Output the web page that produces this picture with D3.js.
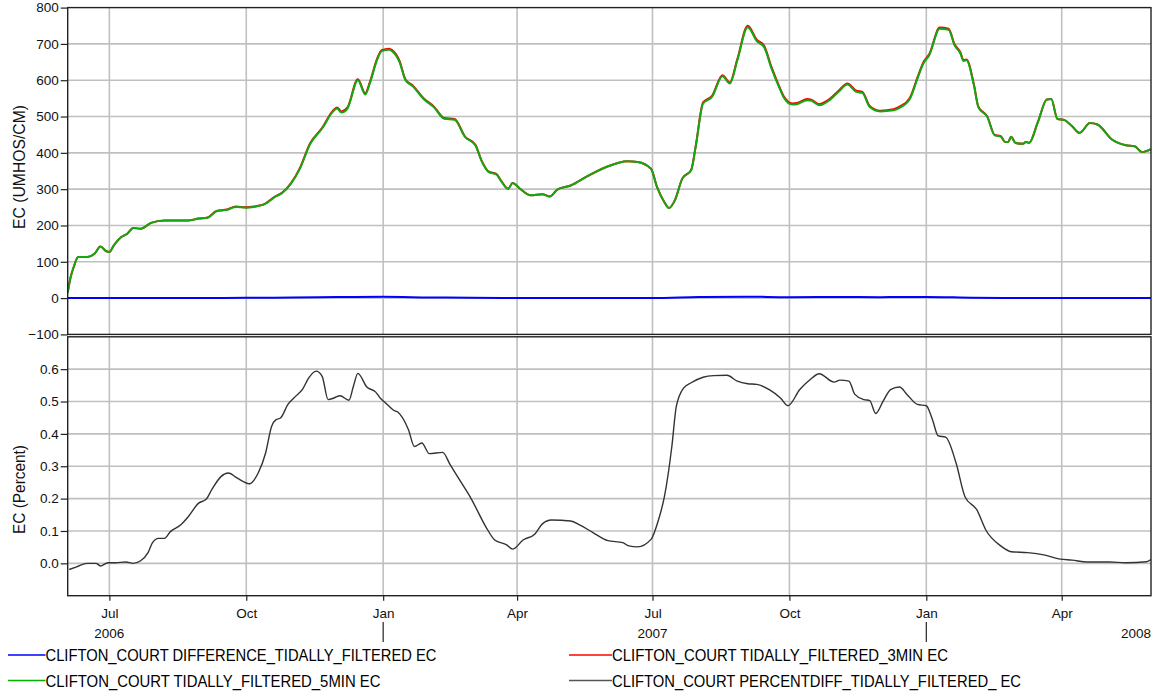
<!DOCTYPE html>
<html>
<head>
<meta charset="utf-8">
<script src="https://cdn.jsdelivr.net/npm/d3@7"></script>
<style>
  html, body { margin: 0; padding: 0; background: #fff; }
  svg { display: block; font-family: "Liberation Sans", Arial, sans-serif; }
</style>
</head>
<body>
<svg id="chart" width="1158" height="694"></svg>
<script>
// Clifton Court EC, tidally filtered: 3-minute vs 5-minute series, their difference and percent difference

const ec5min = [
  ["2006-06-03",15],["2006-06-05",58],["2006-06-07",85],["2006-06-10",113],["2006-06-16",113],
  ["2006-06-21",122],["2006-06-25",142],["2006-06-29",129],["2006-07-01",127],["2006-07-04",145],
  ["2006-07-09",168],["2006-07-13",177],["2006-07-17",193],["2006-07-22",191],["2006-07-29",207],
  ["2006-08-07",214],["2006-08-14",214],["2006-08-23",214],["2006-08-30",219],["2006-09-05",221],
  ["2006-09-11",239],["2006-09-18",243],["2006-09-24",251],["2006-10-01",249],["2006-10-06",251],
  ["2006-10-14",260],["2006-10-20",278],["2006-10-25",289],["2006-10-31",315],["2006-11-06",356],
  ["2006-11-13",425],["2006-11-21",467],["2006-11-28",512],["2006-12-01",522],["2006-12-04",511],
  ["2006-12-08",522],["2006-12-15",600],["2006-12-20",561],["2006-12-23",591],["2006-12-28",657],
  ["2006-12-31",680],["2007-01-05",684],["2007-01-07",680],["2007-01-12",650],["2007-01-16",600],
  ["2007-01-21",583],["2007-01-28",549],["2007-02-04",526],["2007-02-11",494],["2007-02-18",491],
  ["2007-02-25",444],["2007-03-04",421],["2007-03-08",379],["2007-03-13",347],["2007-03-18",341],
  ["2007-03-21",324],["2007-03-26",301],["2007-03-29",317],["2007-04-03",301],["2007-04-10",283],
  ["2007-04-18",286],["2007-04-23",280],["2007-04-28",299],["2007-05-07",310],["2007-05-18",335],
  ["2007-05-31",361],["2007-06-14",377],["2007-06-21",375],["2007-06-30",356],["2007-07-04",306],
  ["2007-07-09",264],["2007-07-12",248],["2007-07-16",269],["2007-07-21",329],["2007-07-27",352],
  ["2007-07-30",416],["2007-08-04",536],["2007-08-10",554],["2007-08-17",611],["2007-08-22",591],
  ["2007-08-27",655],["2007-09-03",746],["2007-09-09",708],["2007-09-14",691],["2007-09-19",632],
  ["2007-09-25",572],["2007-09-27",554],["2007-10-03",533],["2007-10-06",534],["2007-10-13",545],
  ["2007-10-16",543],["2007-10-21",531],["2007-10-28",545],["2007-11-03",568],["2007-11-09",588],
  ["2007-11-15",568],["2007-11-19",565],["2007-11-24",526],["2007-12-01",514],["2007-12-10",517],
  ["2007-12-14",524],["2007-12-21",549],["2007-12-26",604],["2007-12-30",646],["2008-01-03",669],
  ["2008-01-10",742],["2008-01-16",739],["2008-01-20",696],["2008-01-24",673],["2008-01-26",653],
  ["2008-01-28",655],["2008-02-02",586],["2008-02-05",526],["2008-02-11",499],["2008-02-16",448],
  ["2008-02-20",445],["2008-02-23",430],["2008-02-25",430],["2008-02-27",444],["2008-03-01",427],
  ["2008-03-06",425],["2008-03-08",430],["2008-03-10",427],["2008-03-16",485],["2008-03-22",547],
  ["2008-03-25",548],["2008-03-29",494],["2008-04-03",490],["2008-04-08",473],["2008-04-13",455],
  ["2008-04-20",482],["2008-04-25",478],["2008-05-05",436],["2008-05-14",421],["2008-05-20",418],
  ["2008-05-25",402],["2008-05-31",410]
];

const ec3min = [
  ["2006-06-03",15],["2006-06-05",58],["2006-06-07",85],["2006-06-10",113],["2006-06-16",113],
  ["2006-06-21",122],["2006-06-25",142],["2006-06-29",129],["2006-07-01",127],["2006-07-04",145],
  ["2006-07-09",168],["2006-07-13",177],["2006-07-17",193],["2006-07-22",191],["2006-07-29",207],
  ["2006-08-07",214],["2006-08-14",214],["2006-08-23",214],["2006-08-30",219],["2006-09-05",222],
  ["2006-09-11",240],["2006-09-18",244],["2006-09-24",252],["2006-10-01",250],["2006-10-06",252],
  ["2006-10-14",261],["2006-10-20",279],["2006-10-25",290],["2006-10-31",316],["2006-11-06",358],
  ["2006-11-13",427],["2006-11-21",469],["2006-11-28",515],["2006-12-01",525],["2006-12-04",514],
  ["2006-12-08",525],["2006-12-15",603],["2006-12-20",564],["2006-12-23",594],["2006-12-28",660],
  ["2006-12-31",683],["2007-01-05",687],["2007-01-07",683],["2007-01-12",653],["2007-01-16",602],
  ["2007-01-21",585],["2007-01-28",551],["2007-02-04",528],["2007-02-11",496],["2007-02-18",493],
  ["2007-02-25",445],["2007-03-04",422],["2007-03-08",380],["2007-03-13",348],["2007-03-18",342],
  ["2007-03-21",325],["2007-03-26",301],["2007-03-29",317],["2007-04-03",301],["2007-04-10",283],
  ["2007-04-18",286],["2007-04-23",280],["2007-04-28",299],["2007-05-07",310],["2007-05-18",335],
  ["2007-05-31",361],["2007-06-14",377],["2007-06-21",375],["2007-06-30",356],["2007-07-04",306],
  ["2007-07-09",264],["2007-07-12",248],["2007-07-16",269],["2007-07-21",329],["2007-07-27",353],
  ["2007-07-30",418],["2007-08-04",539],["2007-08-10",557],["2007-08-17",614],["2007-08-22",594],
  ["2007-08-27",658],["2007-09-03",750],["2007-09-09",712],["2007-09-14",695],["2007-09-19",636],
  ["2007-09-25",575],["2007-09-27",557],["2007-10-03",536],["2007-10-06",537],["2007-10-13",548],
  ["2007-10-16",546],["2007-10-21",534],["2007-10-28",548],["2007-11-03",571],["2007-11-09",591],
  ["2007-11-15",571],["2007-11-19",568],["2007-11-24",529],["2007-12-01",516],["2007-12-10",520],
  ["2007-12-14",527],["2007-12-21",552],["2007-12-26",607],["2007-12-30",649],["2008-01-03",672],
  ["2008-01-10",745],["2008-01-16",742],["2008-01-20",699],["2008-01-24",676],["2008-01-26",655],
  ["2008-01-28",657],["2008-02-02",588],["2008-02-05",527],["2008-02-11",500],["2008-02-16",449],
  ["2008-02-20",446],["2008-02-23",430],["2008-02-25",430],["2008-02-27",444],["2008-03-01",427],
  ["2008-03-06",425],["2008-03-08",430],["2008-03-10",427],["2008-03-16",485],["2008-03-22",547],
  ["2008-03-25",548],["2008-03-29",494],["2008-04-03",490],["2008-04-08",473],["2008-04-13",455],
  ["2008-04-20",482],["2008-04-25",478],["2008-05-05",436],["2008-05-14",421],["2008-05-20",418],
  ["2008-05-25",402],["2008-05-31",410]
];

const ecDifference = [
  ["2006-06-03",0],["2006-07-01",0],["2006-08-01",0.1],["2006-09-01",0.4],["2006-10-01",0.6],
  ["2006-11-01",1.6],["2006-12-01",2.7],["2007-01-01",3.4],["2007-02-01",1.8],["2007-03-01",0.8],
  ["2007-04-01",0.15],["2007-05-01",0.4],["2007-06-01",0.25],["2007-07-01",0.25],["2007-08-01",2.9],
  ["2007-09-01",4.0],["2007-10-01",2.6],["2007-11-01",3.2],["2007-12-01",2.6],["2008-01-01",3.2],
  ["2008-02-01",1.0],["2008-03-01",0.15],["2008-04-01",0.05],["2008-05-01",0.02],["2008-05-31",0.05]
];

const ecPercentDiff = [
  ["2006-06-04",-0.019],["2006-06-09",-0.011],["2006-06-16",0.0],["2006-06-22",0.0],["2006-06-25",-0.008],
  ["2006-06-30",0.002],["2006-07-05",0.002],["2006-07-12",0.004],["2006-07-17",0.0],["2006-07-22",0.008],
  ["2006-07-27",0.033],["2006-07-30",0.064],["2006-08-03",0.077],["2006-08-07",0.077],["2006-08-11",0.098],
  ["2006-08-18",0.119],["2006-08-23",0.144],["2006-08-30",0.186],["2006-09-04",0.198],["2006-09-08",0.229],
  ["2006-09-14",0.268],["2006-09-19",0.279],["2006-09-25",0.263],["2006-10-03",0.246],["2006-10-09",0.279],
  ["2006-10-14",0.341],["2006-10-18",0.423],["2006-10-21",0.444],["2006-10-24",0.449],["2006-10-29",0.491],
  ["2006-11-02",0.511],["2006-11-08",0.539],["2006-11-12",0.573],["2006-11-17",0.594],["2006-11-21",0.578],
  ["2006-11-25",0.506],["2006-11-29",0.511],["2006-12-03",0.518],["2006-12-09",0.504],["2006-12-12",0.547],
  ["2006-12-15",0.587],["2006-12-21",0.545],["2006-12-27",0.529],["2006-12-30",0.511],["2007-01-03",0.494],
  ["2007-01-08",0.473],["2007-01-11",0.467],["2007-01-18",0.413],["2007-01-22",0.361],["2007-01-27",0.372],
  ["2007-02-01",0.339],["2007-02-10",0.343],["2007-02-15",0.305],["2007-02-22",0.253],["2007-03-01",0.201],
  ["2007-03-11",0.113],["2007-03-17",0.072],["2007-03-25",0.057],["2007-03-29",0.044],["2007-04-05",0.072],
  ["2007-04-13",0.091],["2007-04-18",0.122],["2007-04-24",0.134],["2007-05-07",0.131],["2007-05-13",0.119],
  ["2007-05-22",0.095],["2007-06-01",0.070],["2007-06-11",0.064],["2007-06-15",0.054],["2007-06-21",0.051],
  ["2007-06-30",0.074],["2007-07-05",0.134],["2007-07-09",0.206],["2007-07-14",0.361],["2007-07-17",0.485],
  ["2007-07-22",0.542],["2007-07-27",0.558],["2007-08-04",0.575],["2007-08-11",0.580],["2007-08-20",0.581],
  ["2007-08-27",0.563],["2007-09-03",0.555],["2007-09-09",0.553],["2007-09-18",0.535],["2007-09-25",0.511],
  ["2007-09-30",0.487],["2007-10-08",0.537],["2007-10-15",0.568],["2007-10-21",0.586],["2007-10-31",0.560],
  ["2007-11-04",0.566],["2007-11-10",0.563],["2007-11-14",0.522],["2007-11-20",0.506],["2007-11-24",0.503],
  ["2007-11-28",0.463],["2007-12-03",0.501],["2007-12-08",0.537],["2007-12-14",0.545],["2007-12-19",0.522],
  ["2007-12-26",0.491],["2008-01-01",0.487],["2008-01-05",0.446],["2008-01-09",0.394],["2008-01-14",0.390],
  ["2008-01-21",0.310],["2008-01-27",0.206],["2008-02-04",0.165],["2008-02-10",0.103],["2008-02-20",0.054],
  ["2008-02-27",0.036],["2008-03-09",0.033],["2008-03-20",0.026],["2008-03-31",0.013],["2008-04-08",0.010],
  ["2008-04-18",0.004],["2008-05-03",0.004],["2008-05-14",0.002],["2008-05-28",0.005],["2008-05-31",0.012]
];

const timeDomain = ["2006-06-03", "2008-05-31"];
const ecTicks = [-100, 0, 100, 200, 300, 400, 500, 600, 700, 800];
const pctTicks = [-0.1, 0.0, 0.1, 0.2, 0.3, 0.4, 0.5, 0.6, 0.7];
const yearLabels = [["2006-07-01", "2006"], ["2007-07-01", "2007"], ["2008-05-31", "2008"]];

const legendItems = [
  { name: "CLIFTON_COURT DIFFERENCE_TIDALLY_FILTERED EC", color: "#0000ff", col: 0, row: 0, w: 391 },
  { name: "CLIFTON_COURT TIDALLY_FILTERED_3MIN EC", color: "#ff0000", col: 1, row: 0, w: 336 },
  { name: "CLIFTON_COURT TIDALLY_FILTERED_5MIN EC", color: "#00b400", col: 0, row: 1, w: 335 },
  { name: "CLIFTON_COURT PERCENTDIFF_TIDALLY_FILTERED_ EC", color: "#555555", col: 1, row: 1, w: 409 }
];

const parse = d3.utcParse("%Y-%m-%d");
const svg = d3.select("#chart");

const left = 67.7, right = 1151;
const topPanel = { y0: 7.6, y1: 334.4 };
const botPanel = { y0: 336.8, y1: 595.7 };

const x = d3.scaleUtc().domain(timeDomain.map(parse)).range([left, right]);
const yEC = d3.scaleLinear().domain([-100, 800]).range([topPanel.y1, topPanel.y0]);
const yPct = d3.scaleLinear().domain([-0.1, 0.7]).range([botPanel.y1, botPanel.y0]);

const quarterTicks = x.ticks(d3.utcMonth.every(3));
const gridColor = "#c0c0c0";

function panel(p, yScale, ticks, clipId) {
  const g = svg.append("g");
  svg.append("clipPath").attr("id", clipId)
    .append("rect").attr("x", left).attr("y", p.y0)
    .attr("width", right - left).attr("height", p.y1 - p.y0);
  // grid
  g.selectAll("line.vg").data(quarterTicks).join("line")
    .attr("x1", d => x(d)).attr("x2", d => x(d))
    .attr("y1", p.y0).attr("y2", p.y1)
    .attr("stroke", gridColor).attr("stroke-width", 1.6);
  g.selectAll("line.hg").data(ticks.slice(1, -1)).join("line")
    .attr("x1", left).attr("x2", right)
    .attr("y1", d => yScale(d)).attr("y2", d => yScale(d))
    .attr("stroke", gridColor).attr("stroke-width", 1.6);
  return g;
}

panel(topPanel, yEC, ecTicks, "clipTop");
panel(botPanel, yPct, pctTicks, "clipBot");

// series
const lineEC = d3.line().x(d => x(parse(d[0]))).y(d => yEC(d[1])).curve(d3.curveMonotoneX);
const linePct = d3.line().x(d => x(parse(d[0]))).y(d => yPct(d[1])).curve(d3.curveMonotoneX);

const topSeries = svg.append("g").attr("clip-path", "url(#clipTop)");
topSeries.append("path").datum(ecDifference).attr("d", lineEC)
  .attr("fill", "none").attr("stroke", "#0000ff").attr("stroke-width", 2);
topSeries.append("path").datum(ec3min).attr("d", lineEC)
  .attr("fill", "none").attr("stroke", "#ff0000").attr("stroke-width", 2);
topSeries.append("path").datum(ec5min).attr("d", lineEC)
  .attr("fill", "none").attr("stroke", "#12a812").attr("stroke-width", 2);

svg.append("g").attr("clip-path", "url(#clipBot)")
  .append("path").datum(ecPercentDiff).attr("d", linePct)
  .attr("fill", "none").attr("stroke", "#333333").attr("stroke-width", 1.4);

// frames
[topPanel, botPanel].forEach(p => {
  svg.append("rect").attr("x", left).attr("y", p.y0)
    .attr("width", right - left).attr("height", p.y1 - p.y0)
    .attr("fill", "none").attr("stroke", "#222").attr("stroke-width", 1.4);
});

// y axes
function styleAxis(g) {
  g.select(".domain").remove();
  g.selectAll(".tick line").attr("stroke", "#222").attr("stroke-width", 1.2);
  g.selectAll(".tick text").attr("fill", "#111")
    .style("font-family", "'Liberation Sans', Arial, sans-serif").style("font-size", "13.5px");
}

svg.append("g").attr("transform", `translate(${left},0)`)
  .call(d3.axisLeft(yEC).tickValues(ecTicks).tickSize(7).tickPadding(2).tickFormat(d3.format("d")))
  .call(styleAxis);

svg.append("g").attr("transform", `translate(${left},0)`)
  .call(d3.axisLeft(yPct).tickValues(pctTicks.slice(1, -1)).tickSize(7).tickPadding(2).tickFormat(d3.format(".1f")))
  .call(styleAxis);

// x axis
const xAxis = svg.append("g").attr("transform", `translate(0,${botPanel.y1})`)
  .call(d3.axisBottom(x).tickValues(quarterTicks).tickSize(5).tickPadding(7.4).tickFormat(d3.utcFormat("%b")))
  .call(styleAxis);

// year boundary markers below January labels
svg.selectAll("line.yearMark")
  .data(quarterTicks.filter(d => d.getUTCMonth() === 0)).join("line")
  .attr("x1", d => x(d)).attr("x2", d => x(d))
  .attr("y1", 622).attr("y2", 642)
  .attr("stroke", "#222").attr("stroke-width", 1.2);

svg.selectAll("text.year").data(yearLabels).join("text")
  .attr("x", (d, i) => x(parse(d[0])))
  .attr("y", 638.3)
  .attr("text-anchor", (d, i) => i === yearLabels.length - 1 ? "end" : "middle")
  .attr("fill", "#111").style("font-size", "13.5px")
  .text(d => d[1]);

// axis titles
svg.append("text").attr("transform", "translate(24.5,167) rotate(-90)")
  .attr("text-anchor", "middle").attr("fill", "#111").style("font-size", "16px")
  .attr("textLength", 124).attr("lengthAdjust", "spacingAndGlyphs")
  .text("EC (UMHOS/CM)");
svg.append("text").attr("transform", "translate(24.5,489.5) rotate(-90)")
  .attr("text-anchor", "middle").attr("fill", "#111").style("font-size", "16px")
  .attr("textLength", 89).attr("lengthAdjust", "spacingAndGlyphs")
  .text("EC (Percent)");

// legend
const legendCols = [8, 569];
const legendRows = [655, 680.5];
const lg = svg.selectAll("g.legend").data(legendItems).join("g")
  .attr("transform", d => `translate(${legendCols[d.col]},${legendRows[d.row]})`);
lg.append("line").attr("x1", 0).attr("x2", d => d.col === 0 ? 37.5 : 43)
  .attr("y1", 0).attr("y2", 0).attr("stroke", d => d.color).attr("stroke-width", 1.3);
lg.append("text").attr("x", d => d.col === 0 ? 37.5 : 43).attr("y", 6)
  .attr("fill", "#000").style("font-size", "16.5px")
  .attr("textLength", d => d.w).attr("lengthAdjust", "spacingAndGlyphs")
  .text(d => d.name);
</script>
</body>
</html>
